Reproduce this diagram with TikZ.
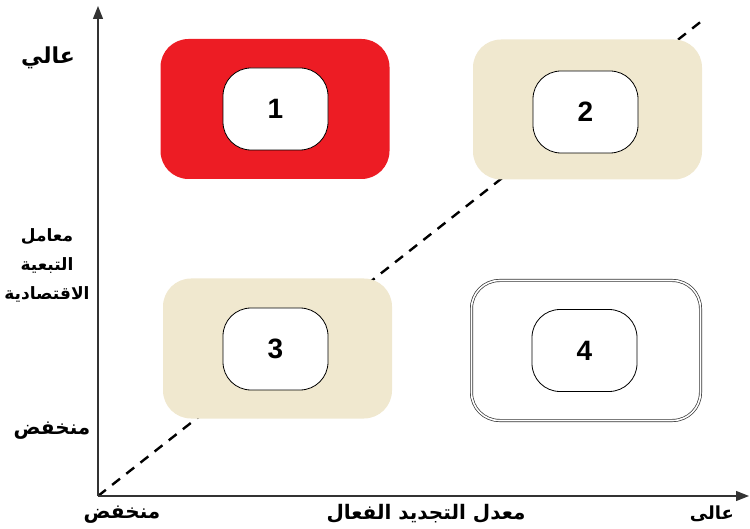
\documentclass[tikz,border=0pt]{standalone}
\usepackage{fontspec}
\setmainfont{Liberation Sans}
\newfontfamily\numfont{Liberation Sans Bold}
\newfontfamily\arabicfont[Script=Arabic]{DejaVu Sans Bold}
\TeXXeTstate=1
\usetikzlibrary{arrows.meta}
\definecolor{quadred}{HTML}{ED1C24}
\definecolor{quadbeige}{HTML}{F0E8CF}
\tikzset{
  quad/.style={rounded corners=28pt, minimum width=229pt, minimum height=140pt, inner sep=0pt},
  core/.style={draw=black, line width=0.8pt, fill=white, rounded corners=28pt,
    minimum width=105pt, minimum height=82pt, inner sep=0pt,
    font=\numfont\fontsize{28}{28}\selectfont},
  axis/.style={line width=1.4pt, draw=black!80, -{Triangle[length=13pt,width=10pt]}},
  diag/.style={line width=2.4pt, dash pattern=on 10pt off 8pt},
  lbl/.style={font=\arabicfont\fontsize{20}{20}\selectfont, inner sep=0pt},
  stacklbl/.style={font=\arabicfont\fontsize{17}{29}\selectfont, align=center, inner sep=0pt},
  biglbl/.style={font=\arabicfont\fontsize{22}{22}\selectfont, inner sep=0pt}
}
\begin{document}
\begin{tikzpicture}[x=1pt, y=-1pt]
  \useasboundingbox (0,0) rectangle (750,529);
  % axes and diagonal
  \coordinate (o) at (98,496);
  \coordinate (ytop) at (98,6);
  \coordinate (xend) at (749,496);
  \coordinate (diagend) at (703,20);
  \draw[diag] (o) -- (diagend);
  \draw[axis] (o) -- (ytop);
  \draw[axis] (o) -- (xend);

  % quadrants
  \node[quad, fill=quadred]   (q1) at (275,109) {};
  \node[quad, fill=quadbeige] (q2) at (587.5,109.5) {};
  \node[quad, fill=quadbeige] (q3) at (277.5,348.5) {};
  \node[quad, draw=black!80, fill=white, double, double distance=1.6pt, line width=0.7pt] (q4) at (586,350.5) {};

  \node[core] (c1) at (275.5,109) {1};
  \node[core] (c2) at (585.5,112) {2};
  \node[core] (c3) at (275.5,349) {3};
  \node[core] (c4) at (584.5,350.5) {4};

  % axis labels
  \node[biglbl] (yhigh) at (48,58) {\beginR عالي\endR};
  \node[stacklbl] (ytitle) at (47,265) {\beginR معامل\endR\\\beginR التبعية\endR\\\beginR الاقتصادية\endR};
  \node[lbl] (ylow) at (52,431) {\beginR منخفض\endR};
  \node[lbl] (xlow) at (122,515) {\beginR منخفض\endR};
  \node[lbl] (xtitle) at (426,514) {\beginR معدل التجديد الفعال\endR};
  \node[lbl, font=\arabicfont\fontsize{18}{18}\selectfont] (xhigh) at (712,514) {\beginR عالى\endR};
\end{tikzpicture}
\end{document}
